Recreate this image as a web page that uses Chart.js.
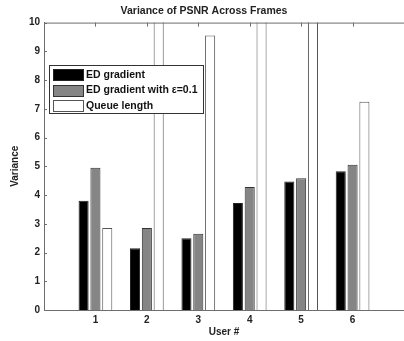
<!DOCTYPE html>
<html>
<head>
<meta charset="utf-8">
<script src="https://cdn.jsdelivr.net/npm/chart.js@4"></script>
<style>
    html, body { margin: 0; padding: 0; background: #fff; overflow: hidden; }
    #wrap { width: 408px; height: 341px; }
</style>
</head>
<body>
<div id="wrap"><canvas id="chart"></canvas></div>
<script>
// ================= DATA =================

const users = ["1", "2", "3", "4", "5", "6"];
const edGradient = [3.8, 2.15, 2.5, 3.72, 4.47, 4.83];
const edGradientEps = [4.95, 2.85, 2.65, 4.28, 4.58, 5.05];
const queueLength = [2.85, 11.5, 9.55, 11.5, 11.5, 7.25];
const yTicks = [0, 1, 2, 3, 4, 5, 6, 7, 8, 9, 10];

// pad with empty slots so the axis runs from 0 to 7
const labels = ["", ...users, ""];
const pad = (arr) => [null, ...arr, null];

const FONT = "'Liberation Sans', Arial, sans-serif";
const AXIS = "#6e6e6e";

// ================= PLUGINS =================

// inward tick marks on left and top, plus the top frame line
const frame = {
    id: "frame",
    afterDraw(chart) {
        const { ctx, chartArea: a, scales } = chart;
        ctx.save();
        ctx.strokeStyle = AXIS;
        ctx.lineWidth = 1;
        ctx.beginPath();
        ctx.moveTo(a.left, a.top + 0.5);
        ctx.lineTo(a.right, a.top + 0.5);
        yTicks.forEach((v) => {
            const y = Math.round(scales.y.getPixelForValue(v)) + 0.5;
            ctx.moveTo(a.left, y);
            ctx.lineTo(a.left + 3, y);
        });
        users.forEach((u) => {
            const x = Math.round(scales.x.getPixelForValue(u)) + 0.5;
            ctx.moveTo(x, a.top);
            ctx.lineTo(x, a.top + 4);
        });
        ctx.stroke();
        ctx.restore();
    },
};

// legend box drawn inside the plot
const boxLegend = {
    id: "boxLegend",
    afterDraw(chart) {
        const ctx = chart.ctx;
        const x0 = 49, y0 = 65, w = 154, h = 48;
        ctx.save();
        ctx.fillStyle = "#fff";
        ctx.fillRect(x0, y0, w, h);
        ctx.strokeStyle = "#333";
        ctx.lineWidth = 1;
        ctx.strokeRect(x0 + 0.5, y0 + 0.5, w, h);
        ctx.font = "bold 10.5px " + FONT;
        ctx.textBaseline = "middle";
        chart.data.datasets.forEach((ds, i) => {
            const cy = 74 + i * 15.5;
            ctx.fillStyle = ds.backgroundColor;
            ctx.fillRect(53, Math.round(cy - 5), 30, 11);
            ctx.strokeStyle = ds.borderColor;
            ctx.strokeRect(53.5, Math.round(cy - 5) + 0.5, 30, 11);
            ctx.fillStyle = "#111";
            ctx.fillText(ds.label, 86, cy + 1);
        });
        ctx.restore();
    },
};

// ================= CHART =================

new Chart(document.getElementById("chart"), {
    type: "bar",
    data: {
        labels,
        datasets: [
            {
                label: "ED gradient",
                data: pad(edGradient),
                backgroundColor: "#000000",
                borderColor: "#222222",
                borderWidth: 1,
            },
            {
                label: "ED gradient with \u03b5=0.1",
                data: pad(edGradientEps),
                backgroundColor: "#858585",
                borderColor: "#333333",
                borderWidth: 1,
            },
            {
                label: "Queue length",
                data: pad(queueLength),
                backgroundColor: "#ffffff",
                borderColor: "#555555",
                borderWidth: 1,
            },
        ],
    },
    options: {
        responsive: true,
        maintainAspectRatio: false,
        animation: false,
        layout: { padding: { left: 0, right: 0, top: 0, bottom: 0 } },
        datasets: { bar: { categoryPercentage: 0.69, barPercentage: 0.85 } },
        plugins: {
            legend: { display: false },
            tooltip: { enabled: false },
            title: {
                display: true,
                text: "Variance of PSNR Across Frames",
                color: "#222",
                font: { family: FONT, size: 10.5, weight: "bold" },
                padding: { top: 5, bottom: 5 },
            },
        },
        scales: {
            x: {
                offset: false,
                grid: { display: false, drawTicks: false },
                border: { display: true, color: AXIS, width: 1 },
                ticks: {
                    color: "#222",
                    font: { family: FONT, size: 10, weight: "bold" },
                    maxRotation: 0,
                    autoSkip: false,
                    padding: 4,
                },
                title: {
                    display: true,
                    text: "User #",
                    color: "#222",
                    font: { family: FONT, size: 10, weight: "bold" },
                    padding: { top: 0, bottom: 3 },
                },
                afterFit: (s) => { s.height = 31; },
            },
            y: {
                min: 0,
                max: 10,
                afterBuildTicks: (s) => { s.ticks = yTicks.map((v) => ({ value: v })); },
                grid: { display: false, drawTicks: false },
                border: { display: true, color: AXIS, width: 1 },
                ticks: {
                    color: "#222",
                    font: { family: FONT, size: 10, weight: "bold" },
                    padding: 4,
                },
                title: {
                    display: true,
                    text: "Variance",
                    color: "#222",
                    font: { family: FONT, size: 10, weight: "bold" },
                    padding: { top: 9, bottom: 0 },
                },
                afterFit: (s) => { s.width = 44; },
            },
        },
    },
    plugins: [frame, boxLegend],
});
</script>
</body>
</html>
